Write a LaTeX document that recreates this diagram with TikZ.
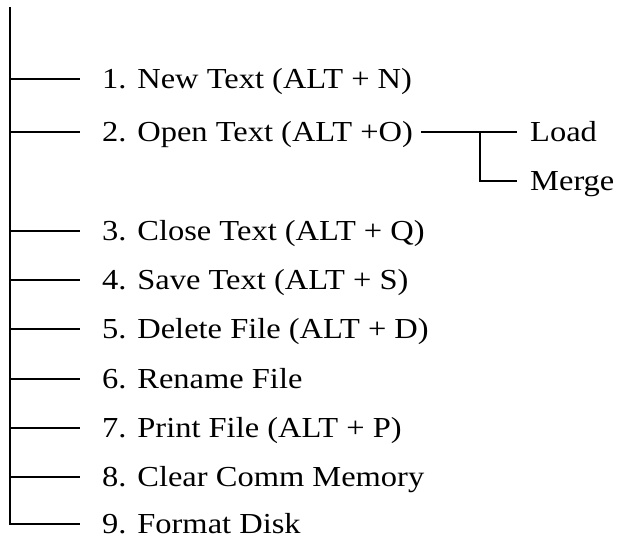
\documentclass[tikz,border=0pt]{standalone}
\usepackage{fontspec}
\setmainfont[FakeStretch=1.12]{Liberation Serif}
\begin{document}
\begin{tikzpicture}[x=1pt,y=1pt,
  item/.style={anchor=base west,inner sep=0pt,font=\fontsize{29}{34}\selectfont},
  conn/.style={line width=1.6pt,line cap=butt}]
\useasboundingbox (0,0) rectangle (620,-536);
\def\dy{9.5}
% trunk
\coordinate (top) at (10,-7);
\coordinate (bot) at (10,-525);
\draw[conn] (top) -- (bot);
% items
\foreach \n/\y/\t in {1/79/{1. New Text (ALT + N)},
                       2/132/{2. Open Text (ALT +O)},
                       3/231/{3. Close Text (ALT + Q)},
                       4/280/{4. Save Text (ALT + S)},
                       5/329/{5. Delete File (ALT + D)},
                       6/379/{6. Rename File},
                       7/428/{7. Print File (ALT + P)},
                       8/477/{8. Clear Comm Memory},
                       9/524/{9. Format Disk}}{
  \coordinate (t\n) at (10,-\y);
  \coordinate (e\n) at (80,-\y);
  \node[item] (n\n) at (102,-\y-\dy) {\t};
  \draw[conn] (t\n) -- (e\n);
}
% sub-branch
\coordinate (s0) at (421,-132);
\coordinate (sj) at (480,-132);
\coordinate (s1) at (517,-132);
\coordinate (sm) at (480,-181);
\coordinate (s2) at (517,-181);
\node[item] (load) at (530,-132-\dy) {Load};
\node[item] (merge) at (530,-181-\dy) {Merge};
\draw[conn] (s0) -- (s1);
\draw[conn] (sj) -- (sm) -- (s2);
\end{tikzpicture}
\end{document}
